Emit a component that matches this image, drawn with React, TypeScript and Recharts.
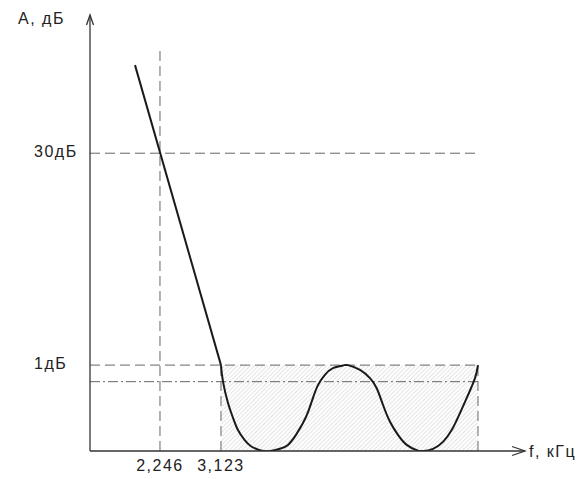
import {
  ComposedChart,
  Line,
  XAxis,
  YAxis,
  ReferenceLine,
  ReferenceArea,
  ReferenceDot,
} from 'recharts'

// frequency axis, kHz (schematic), and amplitude in drawing units
const xMin = 1.24
const xMax = 7.494
const yMin = 0
const yMax = 100

const xTickValues = [2.246, 3.123]
const xTickLabels = ['2,246', '3,123']
const yTickValues = [19.7, 68.3]
const yTickLabels = ['1дБ', '30дБ']

const passEdge = 3.123
const stopEdge = 2.246
const bandEnd = 6.818
const level1dB = 19.7
const level30dB = 68.3
const levelDashDot = 15.9
const stopGuideTop = 92

// steep transition part
const fallF = [1.887, 3.123]
const fallA = [88.5, 19.7]

// passband ripple
const rippleF = [
  3.123, 3.152, 3.224, 3.296, 3.367, 3.464, 3.554, 3.68, 3.828, 3.971, 4.086, 4.201,
  4.302, 4.374, 4.446, 4.518, 4.614, 4.733, 4.876, 4.949, 5.122, 5.265, 5.362, 5.452,
  5.553, 5.668, 5.793, 5.937, 6.028, 6.171, 6.315, 6.44, 6.559, 6.674, 6.775, 6.818,
]
const rippleA = [
  19.7, 15.9, 11.0, 7.6, 4.8, 2.5, 1.1, 0.2, 0, 0.5, 1.4, 3.7,
  6.4, 8.9, 12.2, 15.1, 17.4, 19.0, 19.6, 19.7, 18.6, 16.7, 14.4, 10.6,
  6.7, 3.7, 1.4, 0.2, 0, 0.5, 2.1, 4.8, 8.7, 12.8, 16.7, 19.7,
]

const fallData = fallF.map((f, i) => ({ f, a: fallA[i] }))
const rippleData = rippleF.map((f, i) => ({ f, a: rippleA[i] }))

const FONT = '"Liberation Sans", Arial, sans-serif'
const INK = '#222'
const GUIDE = '#666'

function XTick({ x, y, index }: any) {
  return (
    <text x={x} y={y + 20} textAnchor="middle" fontFamily={FONT} fontSize={16} letterSpacing={1.5} fill={INK}>
      {xTickLabels[index]}
    </text>
  )
}

function YTick({ x, y, index }: any) {
  return (
    <text x={x - 56} y={y + 4} textAnchor="start" fontFamily={FONT} fontSize={16} letterSpacing={1.5} fill={INK}>
      {yTickLabels[index]}
    </text>
  )
}

function XArrow({ cx, cy }: any) {
  return (
    <g>
      <path d={`M${cx - 13},${cy - 4.5} L${cx},${cy} L${cx - 13},${cy + 4.5}`} fill="none" stroke="#333" strokeWidth={1.3} />
      <text x={cx + 4} y={cy + 6} fontFamily={FONT} fontSize={16} letterSpacing={1.5} fill={INK}>
        f, кГц
      </text>
    </g>
  )
}

function YArrow({ cx, cy }: any) {
  return (
    <g>
      <path d={`M${cx - 3.5},${cy + 10} L${cx},${cy} L${cx + 3.5},${cy + 10}`} fill="none" stroke="#333" strokeWidth={1.3} />
      <text x={cx - 72} y={cy + 9} fontFamily={FONT} fontSize={16} letterSpacing={1.5} fill={INK}>
        A, дБ
      </text>
    </g>
  )
}

export default function App() {
  return (
    <div style={{ position: 'absolute', left: 0, top: 0, width: 579, height: 479, background: '#fff' }}>
      <ComposedChart width={579} height={479} margin={{ top: 15, right: 54, left: 0, bottom: 0 }}>
        <defs>
          <pattern id="hatch" width="3" height="3" patternUnits="userSpaceOnUse" patternTransform="rotate(45)">
            <line x1="0" y1="0" x2="0" y2="3" stroke="#c4c4c4" strokeWidth={0.9} />
          </pattern>
        </defs>
        <XAxis
          type="number"
          dataKey="f"
          domain={[xMin, xMax]}
          allowDataOverflow
          ticks={xTickValues}
          tick={<XTick />}
          tickLine={false}
          tickSize={0}
          tickMargin={0}
          height={28}
          axisLine={{ stroke: '#333', strokeWidth: 1.3 }}
        />
        <YAxis
          type="number"
          domain={[yMin, yMax]}
          allowDataOverflow
          ticks={yTickValues}
          tick={<YTick />}
          tickLine={false}
          tickSize={0}
          tickMargin={0}
          width={90}
          axisLine={{ stroke: '#333', strokeWidth: 1.3 }}
        />
        <ReferenceArea x1={passEdge} x2={bandEnd} y1={0} y2={level1dB} fill="url(#hatch)" fillOpacity={1} stroke="none" />
        <ReferenceLine
          segment={[{ x: xMin, y: level30dB }, { x: bandEnd, y: level30dB }]}
          stroke={GUIDE}
          strokeDasharray="10 5"
        />
        <ReferenceLine
          segment={[{ x: xMin, y: level1dB }, { x: bandEnd, y: level1dB }]}
          stroke={GUIDE}
          strokeDasharray="10 5"
        />
        <ReferenceLine
          segment={[{ x: xMin, y: levelDashDot }, { x: bandEnd, y: levelDashDot }]}
          stroke={GUIDE}
          strokeDasharray="10 3 2 3"
        />
        <ReferenceLine
          segment={[{ x: stopEdge, y: 0 }, { x: stopEdge, y: stopGuideTop }]}
          stroke={GUIDE}
          strokeDasharray="10 5"
        />
        <ReferenceLine
          segment={[{ x: passEdge, y: 0 }, { x: passEdge, y: level1dB }]}
          stroke={GUIDE}
          strokeDasharray="10 5"
        />
        <ReferenceLine
          segment={[{ x: bandEnd, y: 0 }, { x: bandEnd, y: level1dB }]}
          stroke={GUIDE}
          strokeDasharray="10 5"
        />
        <Line
          data={fallData}
          dataKey="a"
          type="linear"
          stroke="#1a1a1a"
          strokeWidth={2}
          dot={false}
          activeDot={false}
          isAnimationActive={false}
        />
        <Line
          data={rippleData}
          dataKey="a"
          type="natural"
          stroke="#1a1a1a"
          strokeWidth={2}
          dot={false}
          activeDot={false}
          isAnimationActive={false}
        />
        <ReferenceDot x={xMax} y={yMin} r={0} shape={<XArrow />} />
        <ReferenceDot x={xMin} y={yMax} r={0} shape={<YArrow />} />
      </ComposedChart>
    </div>
  )
}
